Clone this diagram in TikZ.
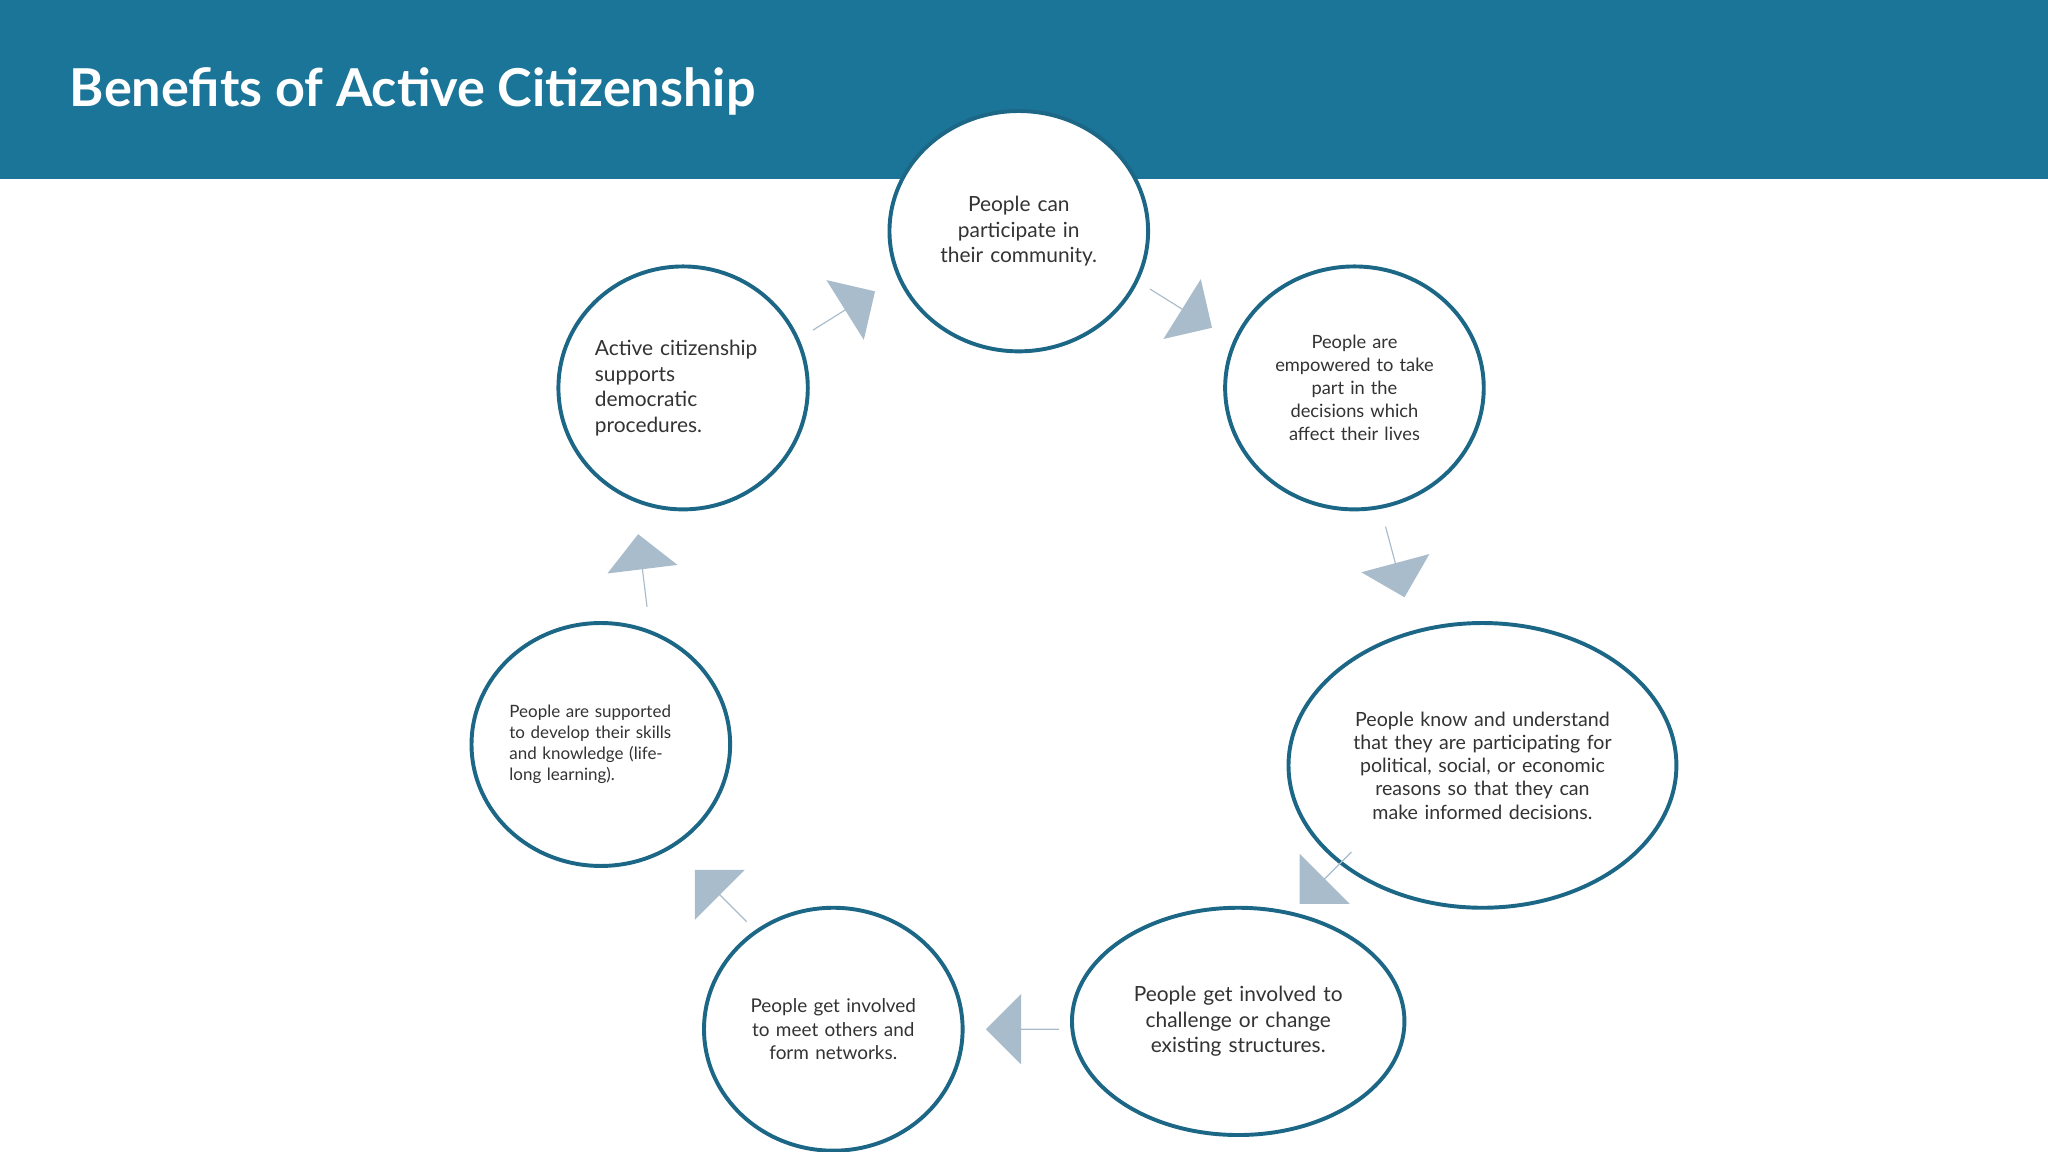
\documentclass[tikz,border=0pt]{standalone}
\usepackage{fontspec}
\setmainfont{Lato}
\usetikzlibrary{shapes.geometric,shapes.arrows}
\definecolor{hdr}{HTML}{1B7599}
\definecolor{ring}{HTML}{1C6686}
\definecolor{arr}{HTML}{A9BCCB}
\definecolor{txt}{HTML}{333333}
\begin{document}
\begin{tikzpicture}[x=1pt,y=-1pt,
 circ/.style={ellipse,draw=ring,line width=3pt,fill=white,inner sep=0pt,text=txt,align=center},
 ba/.style={single arrow,fill=arr,draw=none,minimum height=56pt,minimum width=54pt,single arrow head extend=12pt,inner sep=0pt}]
\useasboundingbox (0,0) rectangle (1568,882);
\fill[hdr] (0,0) rectangle (1568,137);
\node[anchor=west,text=white,font=\fontsize{40}{48}\selectfont\bfseries] (title) at (50,70) {Benefits of Active Citizenship};
\node[circ,minimum width=190pt,minimum height=184pt,font=\fontsize{16}{19.5}\selectfont,text width=140pt] (c1) at (780,177) {People can\\participate in\\their community.};
\node[circ,minimum width=190pt,minimum height=186pt,font=\fontsize{14}{17.5}\selectfont,text width=140pt] (c2) at (1037,297) {People are\\empowered to take\\part in the\\decisions which\\affect their lives};
\node[circ,minimum width=258pt,minimum height=218pt,font=\fontsize{15}{17.8}\selectfont,text width=210pt] (c3) at (1135,586) {People know and understand that they are participating for political, social, or economic reasons so that they can make informed decisions.};
\node[circ,minimum width=238pt,minimum height=174pt,font=\fontsize{16}{19.5}\selectfont,text width=180pt] (c4) at (948,782) {People get involved to\\challenge or change\\existing structures.};
\node[circ,minimum width=190pt,minimum height=186pt,font=\fontsize{14.5}{17.8}\selectfont,text width=140pt] (c5) at (638,788) {People get involved\\to meet others and\\form networks.};
\node[circ,minimum width=190pt,minimum height=186pt,font=\fontsize{13}{16}\selectfont,text width=140pt,align=left] (c6) at (460,570) {People are supported to develop their skills and knowledge (life-long learning).};
\node[circ,minimum width=190pt,minimum height=186pt,font=\fontsize{16}{19.5}\selectfont,text width=135pt,align=left] (c7) at (523,297) {Active citizenship\\supports\\democratic\\procedures.};
\node[ba,rotate=32] (a1) at (646,238) {};
\node[ba,rotate=-32] (a2) at (904,236) {};
\node[ba,rotate=-75] (a3) at (1068,430) {};
\node[ba,rotate=-135] (a4) at (1015,672) {};
\node[ba,rotate=180] (a5) at (783,788) {};
\node[ba,rotate=135] (a6) at (552,686) {};
\node[ba,rotate=97] (a7) at (492,437) {};
\end{tikzpicture}
\end{document}
